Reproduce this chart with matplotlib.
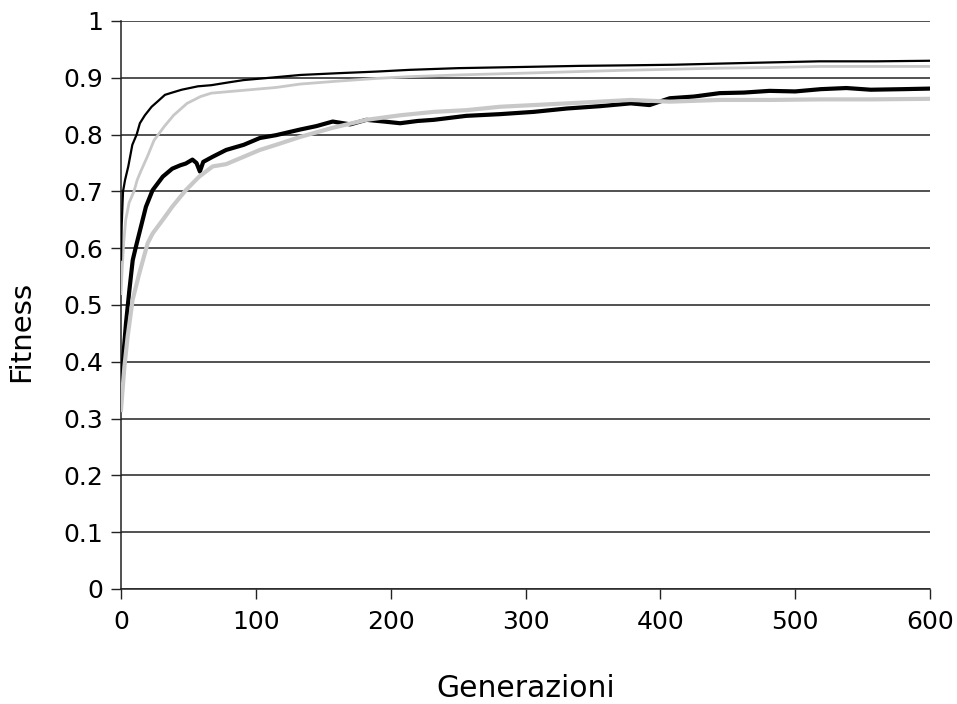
import matplotlib
matplotlib.use("Agg")
import matplotlib.pyplot as plt

# Upper black series
gen_a = [0, 0.5, 1.5, 3, 5.4, 8.4, 11.6, 14, 17.7, 22.7, 27, 32.6, 38, 45, 57, 67, 80,
         91, 110, 133, 160, 190, 214, 250, 296, 340, 378, 410, 444, 480, 518, 560, 600]
fit_a = [0.58, 0.64, 0.70, 0.72, 0.744, 0.782, 0.80, 0.82, 0.834, 0.849, 0.858, 0.870,
         0.874, 0.879, 0.885, 0.887, 0.892, 0.896, 0.900, 0.905, 0.908, 0.911, 0.914,
         0.917, 0.919, 0.921, 0.922, 0.923, 0.925, 0.927, 0.929, 0.929, 0.930]

# Upper gray series
gen_b = [0, 1, 2, 3.5, 6, 9.6, 12, 14.6, 19.5, 24.5, 32, 39, 49, 59, 67, 91, 115, 133,
         160, 190, 214, 250, 296, 340, 370, 407, 444, 480, 518, 560, 600]
fit_b = [0.52, 0.57, 0.61, 0.65, 0.68, 0.70, 0.72, 0.735, 0.761, 0.790, 0.814, 0.834,
         0.855, 0.867, 0.873, 0.878, 0.883, 0.889, 0.894, 0.899, 0.902, 0.905, 0.908,
         0.911, 0.913, 0.915, 0.917, 0.918, 0.920, 0.920, 0.920]

# Lower black series
gen_c = [0, 1.7, 3.7, 6.2, 8.7, 11.1, 14.8, 18.5, 23.4, 31, 38, 44, 48, 53, 56, 58.5, 61,
         68, 78, 91, 103, 115, 133, 145, 157, 170, 182, 195, 207, 220, 232, 256, 281, 306,
         331, 355, 378, 392, 407, 425, 444, 462, 481, 500, 519, 538, 556, 580, 600]
fit_c = [0.350, 0.409, 0.468, 0.526, 0.579, 0.603, 0.638, 0.673, 0.702, 0.726, 0.740,
         0.746, 0.749, 0.756, 0.750, 0.735, 0.752, 0.761, 0.773, 0.782, 0.794, 0.799,
         0.809, 0.815, 0.823, 0.818, 0.826, 0.823, 0.820, 0.824, 0.826, 0.833, 0.836,
         0.840, 0.846, 0.850, 0.855, 0.852, 0.864, 0.867, 0.873, 0.874, 0.877, 0.876,
         0.880, 0.882, 0.879, 0.880, 0.881]

# Lower gray series
gen_d = [0, 2.5, 4.9, 8.6, 13.6, 19.8, 23.5, 31, 38, 48, 58, 68, 78, 91, 103, 115, 133,
         157, 182, 207, 232, 256, 281, 306, 331, 355, 378, 407, 444, 481, 519, 556, 600]
fit_d = [0.315, 0.391, 0.444, 0.509, 0.556, 0.609, 0.626, 0.650, 0.673, 0.702, 0.726,
         0.744, 0.748, 0.761, 0.773, 0.782, 0.796, 0.812, 0.826, 0.834, 0.840, 0.843,
         0.849, 0.852, 0.855, 0.858, 0.861, 0.858, 0.861, 0.861, 0.862, 0.862, 0.863]

xticks = [0, 100, 200, 300, 400, 500, 600]
yticks = [0, 0.1, 0.2, 0.3, 0.4, 0.5, 0.6, 0.7, 0.8, 0.9, 1]
ytick_labels = ["0", "0.1", "0.2", "0.3", "0.4", "0.5", "0.6", "0.7", "0.8", "0.9", "1"]

fig = plt.figure(figsize=(9.57, 7.04), dpi=100)
ax = fig.add_axes([121/957, 115/704, 809/957, 568/704])

gray = "#c8c8c8"
ax.plot(gen_c, fit_c, color="black", lw=3.0, zorder=3)
ax.plot(gen_d, fit_d, color=gray, lw=3.0, zorder=4)
ax.plot(gen_b, fit_b, color=gray, lw=2.0, zorder=5)
ax.plot(gen_a, fit_a, color="black", lw=1.6, zorder=6)

ax.set_xlim(0, 600)
ax.set_ylim(0, 1)
ax.set_xticks(xticks)
ax.set_yticks(yticks)
ax.set_yticklabels(ytick_labels)
ax.yaxis.grid(True, color="#222222", lw=1.1)
ax.set_axisbelow(True)

for s in ["top", "right"]:
    ax.spines[s].set_visible(False)
for s in ["left", "bottom"]:
    ax.spines[s].set_color("#222222")
    ax.spines[s].set_linewidth(1.1)

ax.tick_params(axis="both", direction="out", length=7, width=1, color="#222222",
               labelsize=18)
ax.tick_params(axis="y", pad=6)
ax.tick_params(axis="x", pad=8)

ax.set_xlabel("Generazioni", fontsize=21.5)
ax.set_ylabel("Fitness", fontsize=21)
ax.xaxis.set_label_coords(0.5, -0.15)
ax.yaxis.set_label_coords(-0.106, 0.454)

fig.savefig("out.png", dpi=100)
